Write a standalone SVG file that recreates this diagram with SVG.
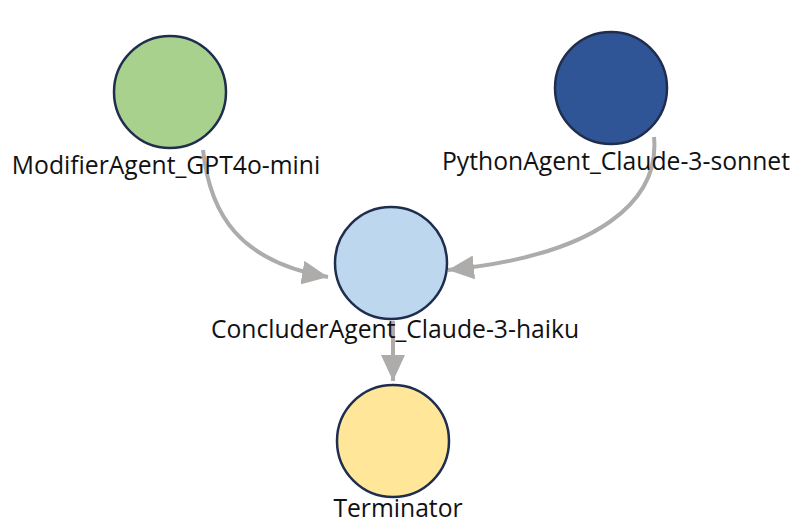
<svg xmlns="http://www.w3.org/2000/svg" width="792" height="527" viewBox="0 0 792 527">
<style>
.node{stroke:#1f2d4f;stroke-width:2.5}
.lbl{font-family:"Open Sans","Liberation Sans",sans-serif;font-size:24.7px;fill:#111;text-anchor:middle}
.edge{fill:none;stroke:#aeabab;stroke-width:4}
</style>
<defs>
<marker id="arr" markerUnits="userSpaceOnUse" markerWidth="28" markerHeight="24" refX="26" refY="12" orient="auto">
<path d="M0,0 L26,12 L0,24 Z" fill="#aeabab"/>
</marker>
</defs>
<rect width="792" height="527" fill="#fff"/>
<g id="connectors">
<path class="edge" d="M203,150 C210,215 240,262 328,277" marker-end="url(#arr)"/>
<path class="edge" d="M654,137 C660,200 600,255 448,270" marker-end="url(#arr)"/>
<path class="edge" d="M393,321 L393,381" marker-end="url(#arr)"/>
</g>
<g id="ModifierAgent">
<circle class="node" cx="170" cy="92" r="56" fill="#a9d18e"/>
<text class="lbl" x="166" y="174">ModifierAgent_GPT4o-mini</text>
</g>
<g id="PythonAgent">
<circle class="node" cx="611" cy="88" r="56" fill="#2f5597"/>
<text class="lbl" x="616" y="170">PythonAgent_Claude-3-sonnet</text>
</g>
<g id="ConcluderAgent">
<circle class="node" cx="391" cy="263" r="56" fill="#bdd7ee"/>
<text class="lbl" x="395" y="338">ConcluderAgent_Claude-3-haiku</text>
</g>
<g id="Terminator">
<circle class="node" cx="393" cy="441" r="56" fill="#ffe699"/>
<text class="lbl" x="398" y="517">Terminator</text>
</g>
</svg>
